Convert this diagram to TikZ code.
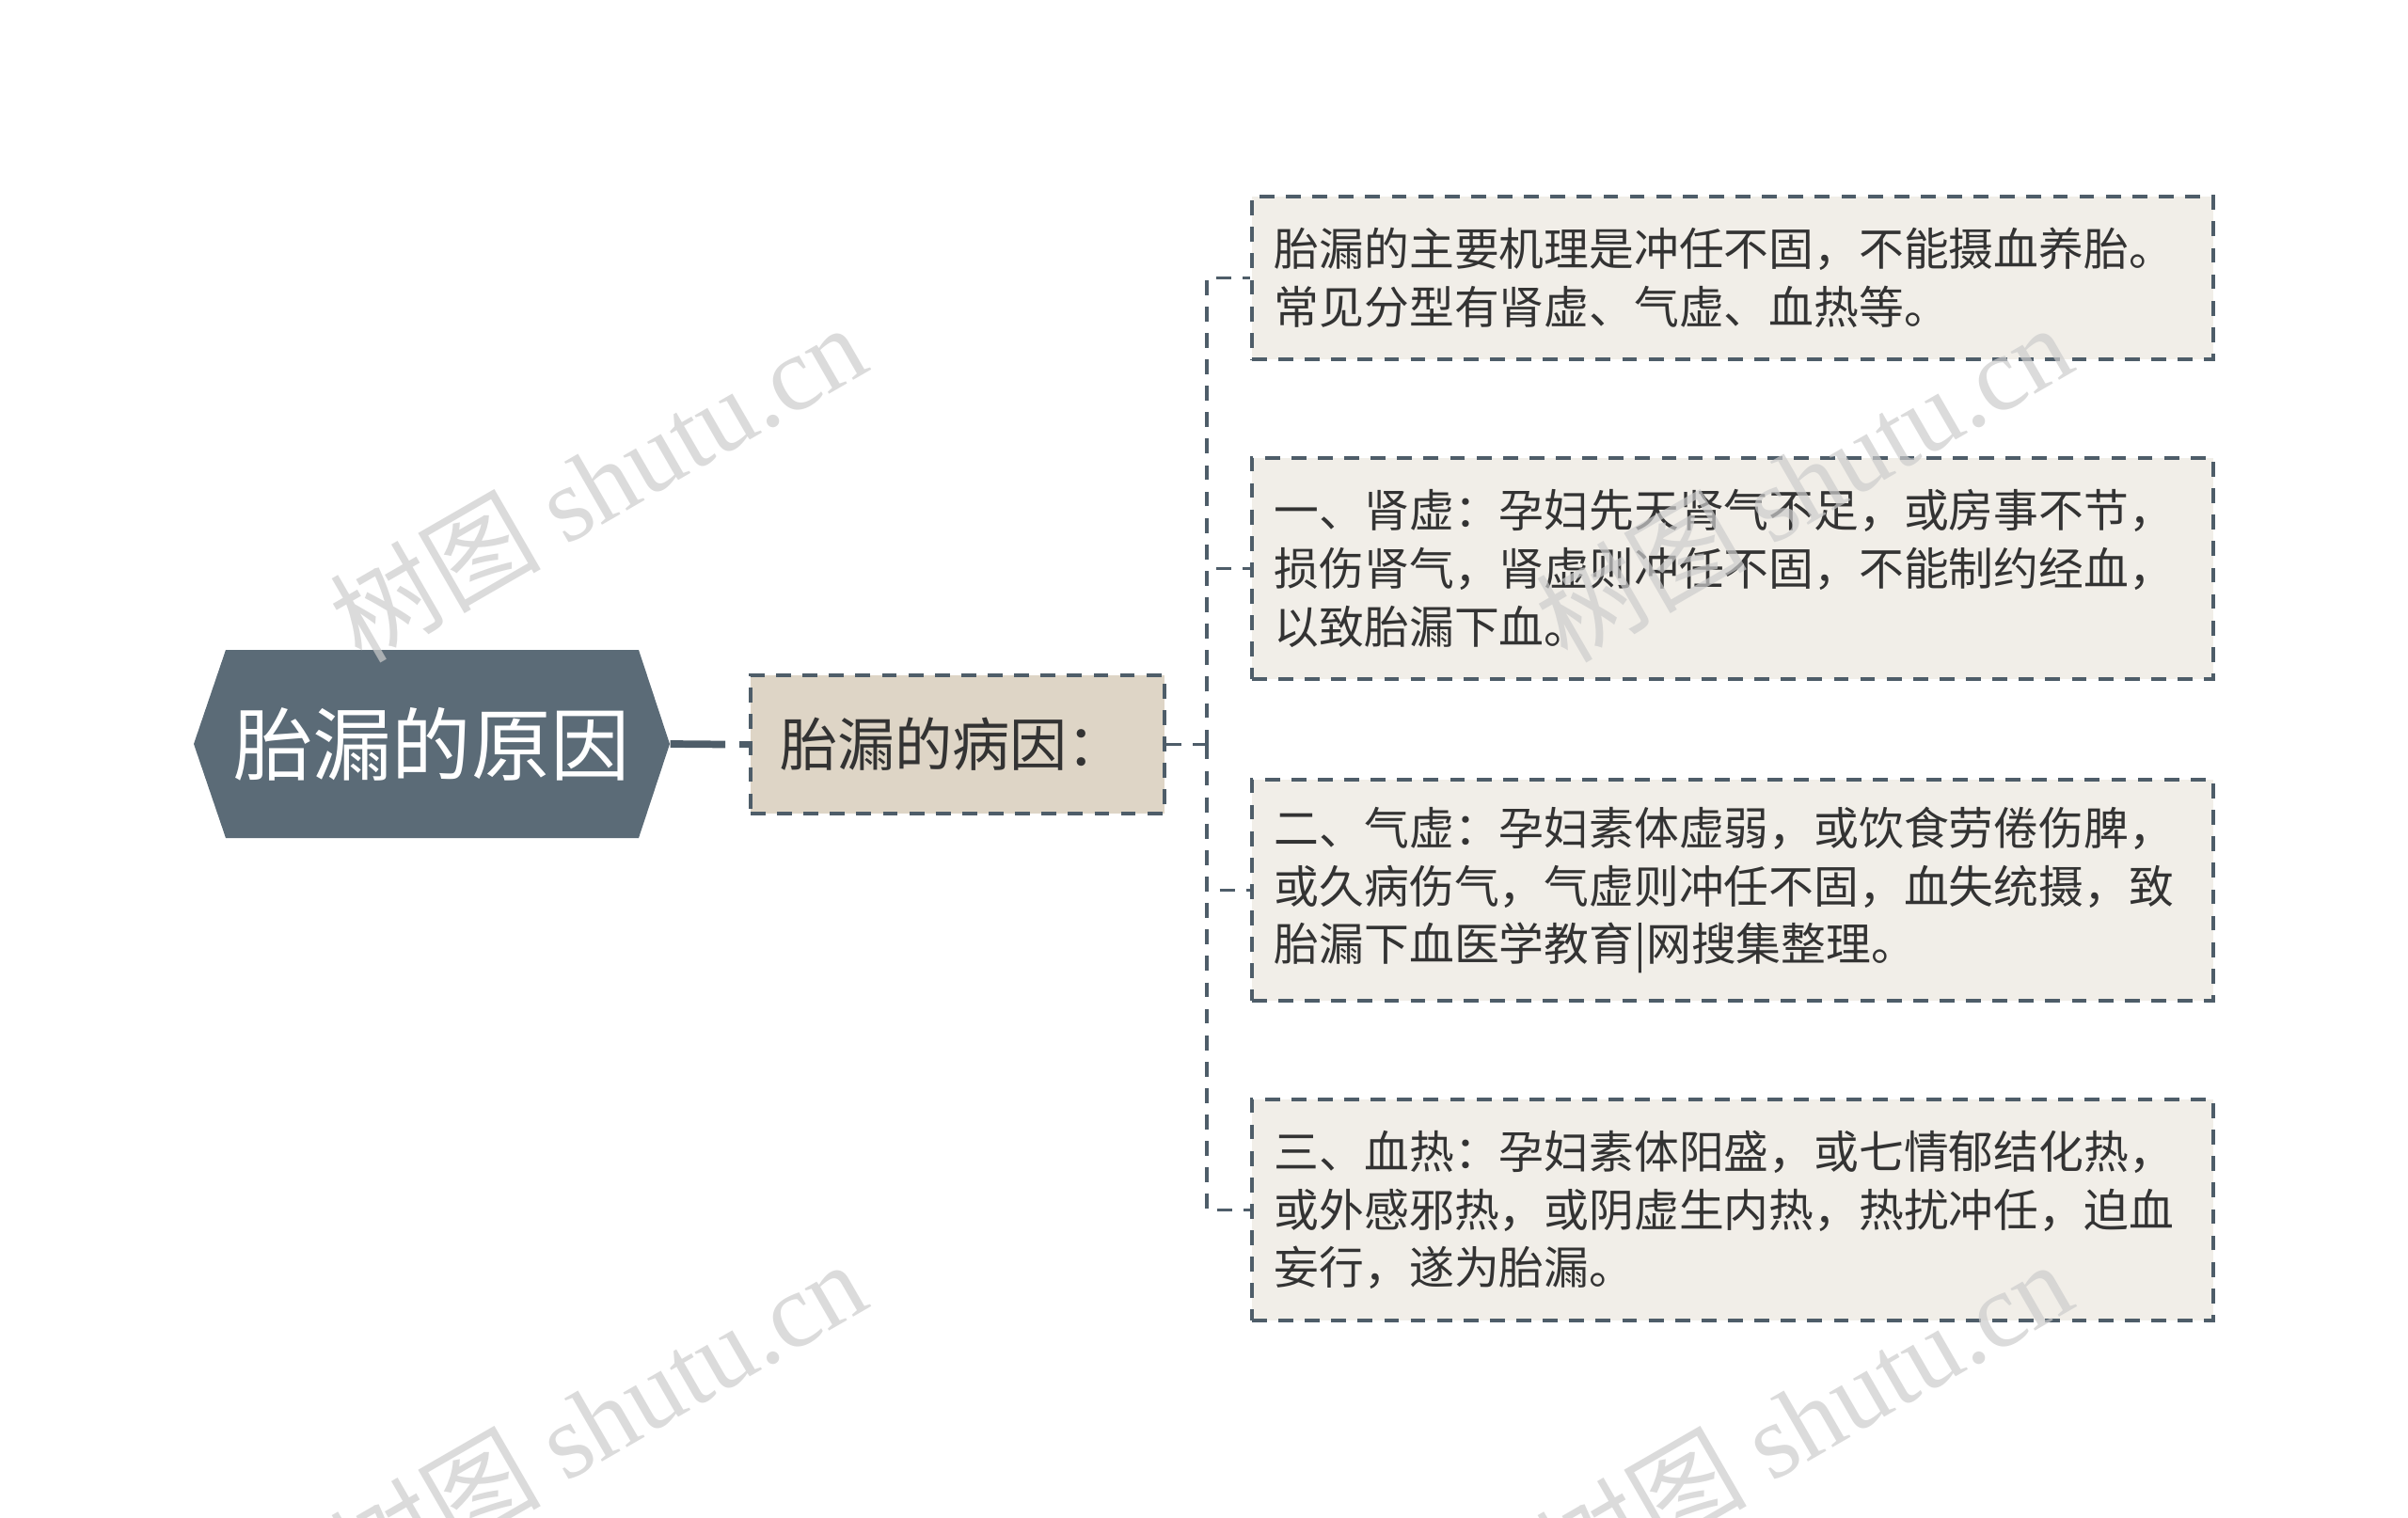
\documentclass[tikz,border=0pt]{standalone}
\usepackage{fontspec}
\setmainfont{Noto Sans CJK SC}
\newfontfamily\wmfont{Liberation Serif}
\usetikzlibrary{calc}
\definecolor{slate}{HTML}{5B6B77}
\definecolor{edgeclr}{HTML}{4E5D69}
\definecolor{midfill}{HTML}{DED5C6}
\definecolor{boxfill}{HTML}{F1EEE8}
\definecolor{txtclr}{HTML}{333333}
\tikzset{
	rootnode/.style={minimum width=5.06cm, minimum height=2cm, inner sep=0pt, text=white, font=\fontsize{24}{28}\selectfont,
		path picture={\fill[slate] (path picture bounding box.west) -- ($(path picture bounding box.north west)+(0.34, 0)$) -- ($(path picture bounding box.north east)+(-0.33, 0)$) -- (path picture bounding box.east) -- ($(path picture bounding box.south east)+(-0.33, 0)$) -- ($(path picture bounding box.south west)+(0.34, 0)$) -- cycle;}},
	dashline/.style={line width=1.1pt, color=edgeclr, dash pattern=on 4.5pt off 3.5pt},
	midnode/.style={draw, dashline, fill=midfill, text=txtclr, text width=3.78cm, inner xsep=0.31cm, minimum height=1.47cm, align=left, font=\fontsize{17.4}{20}\selectfont},
	infobox/.style={draw, dashline, fill=boxfill, text=txtclr, text width=9.74cm, inner xsep=0.24cm, align=left, anchor=west, font=\fontsize{13.6}{17.6}\selectfont},
	wmark/.style={rotate=30, text=gray!40, opacity=0.7, font=\fontsize{32}{36}\selectfont}
}
\begin{document}
\begin{tikzpicture}
			%%%%% START %%%%%
			\useasboundingbox (0, 0) rectangle (25.6, -16.14);
			
			\node[rootnode] (root) at (4.59, -7.91) {胎漏的原因};
			
			\node[midnode] (mid) at (10.18, -7.915) {胎漏的病因：};
			\draw[line width=2.2pt, color=edgeclr] (root.east) -- ($(mid.west)+(-0.25, 0)$);
			\draw[line width=2.2pt, color=edgeclr] ($(mid.west)+(-0.1, 0)$) -- (mid.west);
			
			\node[infobox, minimum height=1.73cm] (d1) at (13.29, -2.955) {胎漏的主要机理是冲任不固，不能摄血养胎。\\常见分型有肾虚、气虚、血热等。};
			\node[infobox, minimum height=2.35cm] (d2) at (13.29, -6.045) {一、肾虚：孕妇先天肾气不足，或房事不节，\\损伤肾气，肾虚则冲任不固，不能制约经血，\\以致胎漏下血。};
			\node[infobox, minimum height=2.35cm] (d3) at (13.29, -9.465) {二、气虚：孕妇素体虚弱，或饮食劳倦伤脾，\\或久病伤气，气虚则冲任不固，血失统摄，致\\胎漏下血医学教育|网搜集整理。};
			\node[infobox, minimum height=2.35cm] (d4) at (13.29, -12.865) {三、血热：孕妇素体阳盛，或七情郁结化热，\\或外感邪热，或阴虚生内热，热扰冲任，迫血\\妄行，遂为胎漏。};
			
			\coordinate (bus) at (12.83, -7.915);
			\draw[dashline] (mid.east) -- (bus);
			\foreach \d in {d1, d2, d3, d4}
				\draw[dashline] (bus) |- (\d.west);
			
			\node[wmark] (wm1) at (6.35, -5.12) {树图 {\wmfont shutu.cn}};
			\node[wmark] (wm2) at (19.17, -5.12) {树图 {\wmfont shutu.cn}};
			\node[wmark] (wm3) at (6.35, -15.08) {树图 {\wmfont shutu.cn}};
			\node[wmark] (wm4) at (19.17, -15.08) {树图 {\wmfont shutu.cn}};
			
			%%%%% END %%%%%
\end{tikzpicture}
\end{document}
